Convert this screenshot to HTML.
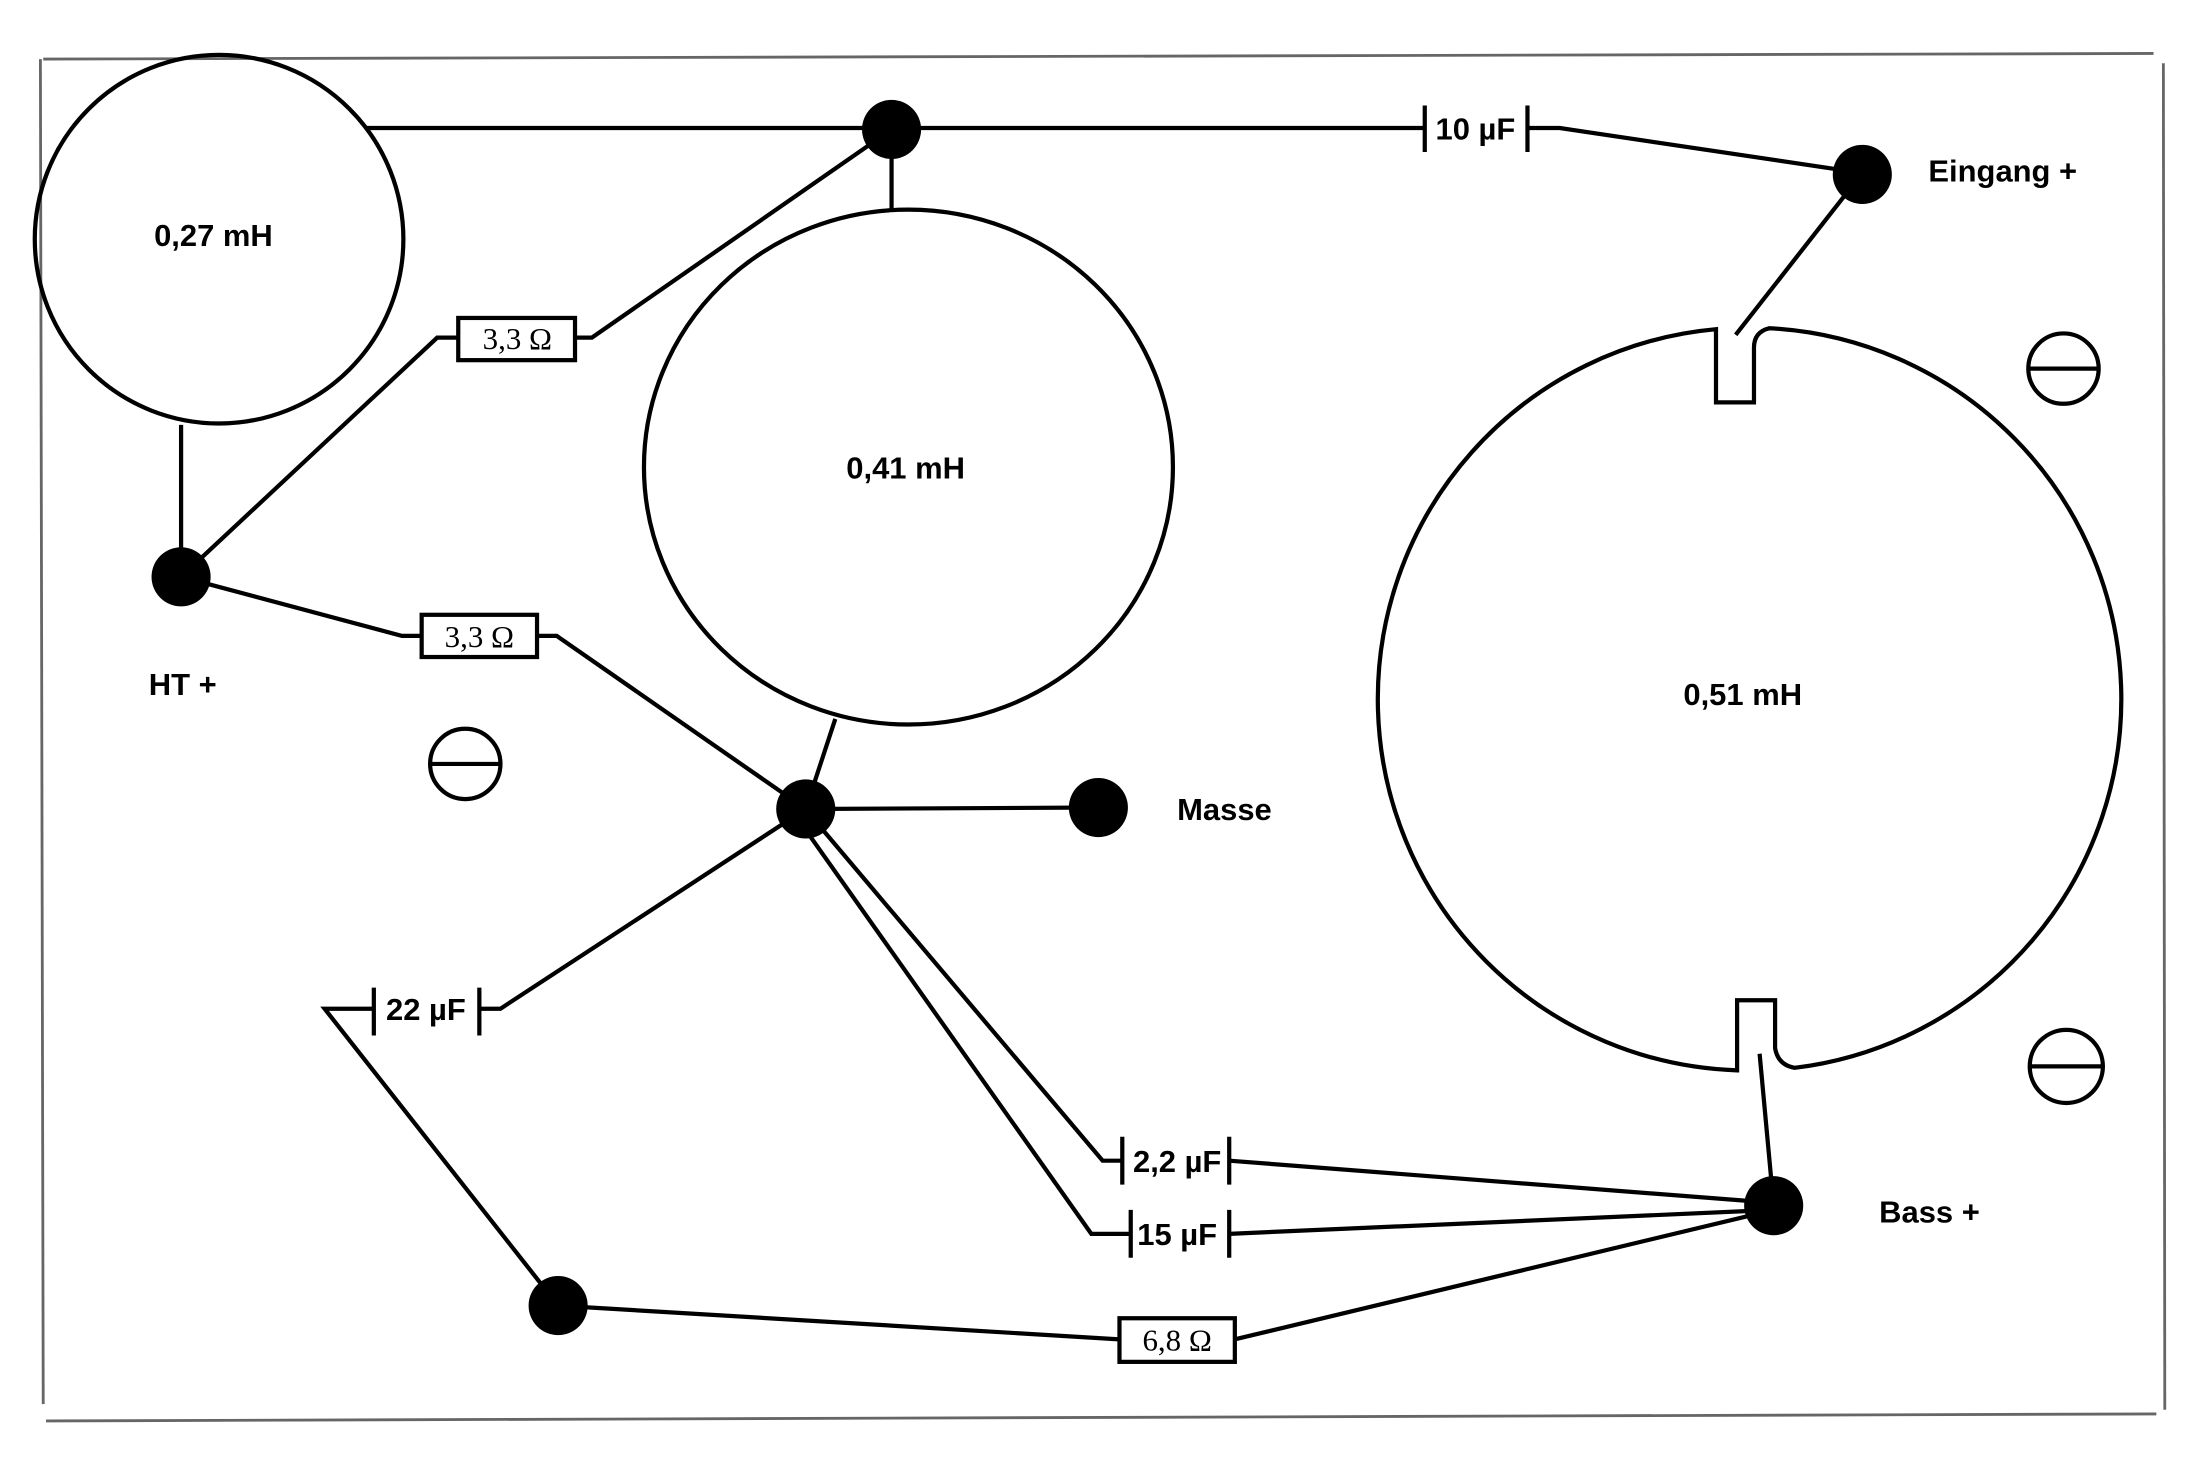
<!DOCTYPE html>
<html><head><meta charset="utf-8"><style>html,body{margin:0;padding:0;background:#fff}svg{display:block}</style></head>
<body>
<svg width="2208" height="1473" viewBox="0 0 1568 1047" xmlns="http://www.w3.org/2000/svg">
<rect width="1568" height="1047" fill="#fff"/>
<g fill="none" stroke="#666" stroke-width="2">
<line x1="30" y1="42" x2="1530" y2="38"/>
<line x1="28" y1="42" x2="30" y2="998"/>
<line x1="1537" y1="45" x2="1538" y2="1002"/>
<line x1="32" y1="1010" x2="1532" y2="1005"/>
</g>
<g fill="none" stroke="#000" stroke-width="3">
<circle cx="155" cy="170" r="131"/>
<ellipse cx="645" cy="332" rx="188" ry="183"/>
<path d="M1257,233.3 A264 264 0 0 1 1275,759 Q1263,757 1261,745 L1261,711 L1234,711 L1234,760.8 A264 264 0 0 1 1219,234 L1219,286 L1246,286 L1246,247 Q1246,236 1257,233.3 Z"/>
<line x1="260" y1="91" x2="1012" y2="91"/>
<line x1="1012" y1="75" x2="1012" y2="108"/><line x1="1085" y1="75" x2="1085" y2="108"/>
<polyline points="1085,91 1108,91 1323,123"/>
<line x1="633" y1="92" x2="633" y2="150"/>
<polyline points="633,92 420,240 408,240"/>
<rect x="325" y="226" width="83" height="30"/>
<polyline points="325,240 310,240 128,410"/>
<line x1="128" y1="302" x2="128" y2="410"/>
<polyline points="128,410 285,452 299,452"/>
<rect x="299" y="437" width="82" height="30"/>
<polyline points="381,452 395,452 572,575"/>
<line x1="593" y1="511" x2="572" y2="575"/>
<line x1="572" y1="575" x2="780" y2="574"/>
<polyline points="572,575 355,717 340,717"/>
<line x1="340" y1="702" x2="340" y2="736"/><line x1="265" y1="702" x2="265" y2="736"/>
<polyline points="265,717 230,717 396,928"/>
<polyline points="580,585 783,825 797,825"/>
<line x1="797" y1="808" x2="797" y2="842"/><line x1="873" y1="808" x2="873" y2="842"/>
<line x1="873" y1="825" x2="1260" y2="855"/>
<polyline points="572,590 775,877 803,877"/>
<line x1="803" y1="860" x2="803" y2="894"/><line x1="873" y1="860" x2="873" y2="894"/>
<line x1="873" y1="877" x2="1260" y2="860"/>
<line x1="396" y1="928" x2="795" y2="952"/>
<rect x="795" y="937" width="82" height="31"/>
<line x1="877" y1="952" x2="1260" y2="860"/>
<line x1="1323" y1="123" x2="1233" y2="238"/>
<line x1="1250" y1="749" x2="1260" y2="857"/>
<circle cx="330" cy="543" r="25"/><line x1="305" y1="543" x2="355" y2="543"/>
<circle cx="1466" cy="262" r="25"/><line x1="1441" y1="262" x2="1491" y2="262"/>
<circle cx="1468" cy="758" r="26"/><line x1="1442" y1="758" x2="1494" y2="758"/>
</g>
<g fill="#000">
<circle cx="633" cy="92" r="21"/><circle cx="1323" cy="124" r="21"/>
<circle cx="128" cy="410" r="21"/><circle cx="572" cy="575" r="21"/>
<circle cx="780" cy="574" r="21"/><circle cx="396" cy="928" r="21"/>
<circle cx="1260" cy="857" r="21"/>
</g>
<g font-family="Liberation Sans, sans-serif" font-weight="bold" font-size="22" fill="#000">
<text x="151" y="175" text-anchor="middle">0,27 mH</text>
<text x="643" y="340" text-anchor="middle">0,41 mH</text>
<text x="1238" y="501" text-anchor="middle">0,51 mH</text>
<text x="1370" y="129">Eingang +</text>
<text x="105" y="494">HT +</text>
<text x="836" y="583">Masse</text>
<text x="1335" y="869">Bass +</text>
<text x="1048" y="99" text-anchor="middle">10 µF</text>
<text x="302" y="725" text-anchor="middle">22 µF</text>
<text x="836" y="833" text-anchor="middle">2,2 µF</text>
<text x="836" y="885" text-anchor="middle">15 µF</text>
</g>
<g font-family="Liberation Serif, serif" font-size="22" fill="#000" text-anchor="middle">
<text x="367" y="248">3,3 Ω</text>
<text x="340" y="460">3,3 Ω</text>
<text x="836" y="960">6,8 Ω</text>
</g>
</svg>
</body></html>
